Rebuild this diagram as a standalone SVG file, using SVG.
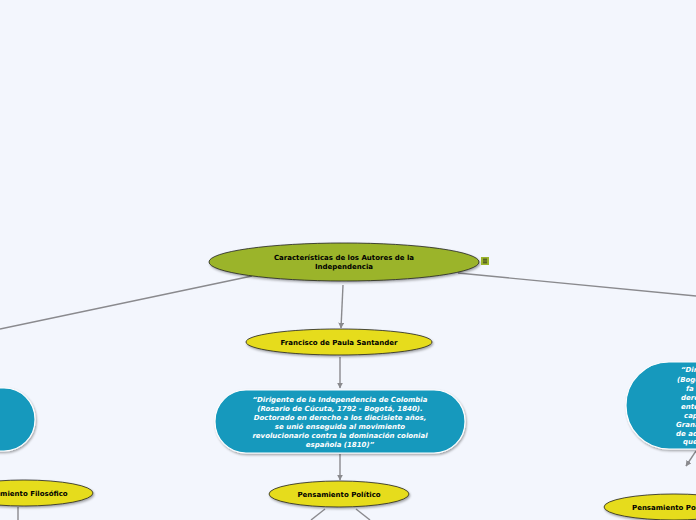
<svg xmlns="http://www.w3.org/2000/svg" width="696" height="520" viewBox="0 0 696 520">
<defs>
<style>
.t{font-family:"DejaVu Sans",Verdana,sans-serif;font-weight:bold;fill:#000;text-anchor:middle;font-size:7px}
.w{font-family:"DejaVu Sans",Verdana,sans-serif;font-weight:bold;font-style:italic;fill:#fff;font-size:7px}
.wm{text-anchor:middle}
.line{stroke:#8a8a8e;stroke-width:1.4;fill:none}
.yel{fill:#e6dc1e;stroke:#222;stroke-width:0.8}
.blue{fill:#1799bd;stroke:#fff;stroke-width:1.2}
</style>
<marker id="ah" viewBox="0 0 10 10" refX="9" refY="5" markerWidth="6" markerHeight="6" orient="auto" markerUnits="userSpaceOnUse">
<path d="M0,0 L10,5 L0,10 z" fill="#8a8a8e"/>
</marker>
<filter id="sh" x="-20%" y="-20%" width="140%" height="150%">
<feDropShadow dx="1" dy="1.5" stdDeviation="1" flood-color="#000" flood-opacity="0.35"/>
</filter>
</defs>
<rect width="696" height="520" fill="#f3f6fd"/>
<g id="connectors">
<line class="line" x1="252" y1="276" x2="0" y2="329"/>
<line class="line" x1="343" y1="285" x2="341" y2="328" marker-end="url(#ah)"/>
<line class="line" x1="458" y1="273" x2="696" y2="296"/>
<line class="line" x1="340" y1="357" x2="340" y2="388" marker-end="url(#ah)"/>
<line class="line" x1="340" y1="454" x2="340" y2="480" marker-end="url(#ah)"/>
<line class="line" x1="325" y1="509" x2="311" y2="520"/>
<line class="line" x1="356" y1="509" x2="370" y2="520"/>
<line class="line" x1="18" y1="507" x2="18" y2="520"/>
<line class="line" x1="696" y1="451" x2="686" y2="466" marker-end="url(#ah)"/>
</g>
<g id="root">
<ellipse cx="344" cy="262" rx="135" ry="19" fill="#9bb42b" stroke="#222" stroke-width="0.8" filter="url(#sh)"/>
<text class="t" x="344" y="260">Características de los Autores de la</text>
<text class="t" x="344" y="269">Independencia</text>
<rect x="481" y="257" width="8" height="8" fill="#9bb42b"/>
<path d="M483 259.2h4M483 261h4M483 262.8h4" stroke="#222" stroke-width="0.8"/>
</g>
<g id="santander">
<ellipse class="yel" cx="339" cy="342" rx="93" ry="13" filter="url(#sh)"/>
<text class="t" x="339" y="344.5">Francisco de Paula Santander</text>
</g>
<g id="santander-desc">
<rect class="blue" x="215" y="390" width="250" height="63" rx="31" filter="url(#sh)"/>
<text class="w wm" x="340" y="402">“Dirigente de la Independencia de Colombia</text>
<text class="w wm" x="340" y="411">(Rosario de Cúcuta, 1792 - Bogotá, 1840).</text>
<text class="w wm" x="340" y="420">Doctorado en derecho a los diecisiete años,</text>
<text class="w wm" x="340" y="429">se unió enseguida al movimiento</text>
<text class="w wm" x="340" y="438">revolucionario contra la dominación colonial</text>
<text class="w wm" x="340" y="447">española (1810)”</text>
</g>
<g id="pol-center">
<ellipse class="yel" cx="339" cy="494" rx="70" ry="13" filter="url(#sh)"/>
<text class="t" x="339" y="496.5">Pensamiento Político</text>
</g>
<g id="left-desc">
<rect class="blue" x="-220" y="388" width="255" height="63" rx="31" filter="url(#sh)"/>
</g>
<g id="filosofico">
<ellipse class="yel" cx="24" cy="493" rx="69" ry="13" filter="url(#sh)"/>
<text class="t" x="22" y="495.5">Pensamiento Filosófico</text>
</g>
<g id="right-desc">
<rect class="blue" x="626" y="362" width="200" height="87" rx="43" filter="url(#sh)"/>
<text class="w" x="681" y="372">“Dir</text>
<text class="w" x="677" y="382">(Bogo</text>
<text class="w" x="686" y="391">fa</text>
<text class="w" x="681" y="400">dere</text>
<text class="w" x="681" y="409">ente</text>
<text class="w" x="684" y="418">cap</text>
<text class="w" x="676" y="427">Grana</text>
<text class="w" x="676" y="436">de ad</text>
<text class="w" x="683" y="444">que</text>
</g>
<g id="pol-right">
<ellipse class="yel" cx="674" cy="507" rx="70" ry="13" filter="url(#sh)"/>
<text class="t" x="632" y="509.5" style="text-anchor:start">Pensamiento Político</text>
</g>
</svg>
